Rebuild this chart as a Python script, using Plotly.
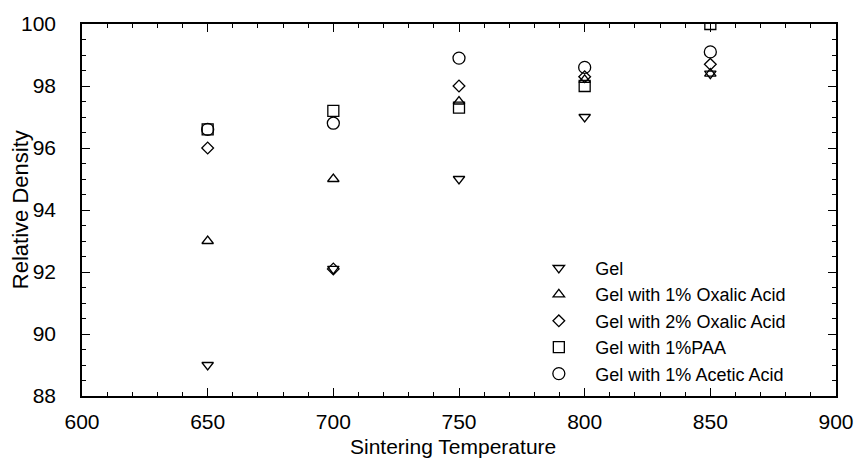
import plotly.graph_objects as go

temps = [650, 700, 750, 800, 850]
gel = [89.0, 92.1, 95.0, 97.0, 98.4]
oxalic1 = [93.0, 95.0, 97.5, 98.2, 98.4]
oxalic2 = [96.0, 92.1, 98.0, 98.3, 98.7]
paa = [96.6, 97.2, 97.3, 98.0, 100.0]
acetic = [96.6, 96.8, 98.9, 98.6, 99.1]

series = [
    ("Gel", gel, "triangle-down-open", 10),
    ("Gel with 1% Oxalic Acid", oxalic1, "triangle-up-open", 10),
    ("Gel with 2% Oxalic Acid", oxalic2, "diamond-open", 9),
    ("Gel with 1%PAA", paa, "square-open", 11),
    ("Gel with 1% Acetic Acid", acetic, "circle-open", 12),
]

fig = go.Figure()
for i, (name, vals, sym, sz) in enumerate(series):
    fig.add_trace(go.Scatter(
        x=temps, y=vals, mode="markers", name=name, legendgroup=str(i),
        marker=dict(symbol=sym, size=sz, color="black", line=dict(width=1.3, color="black")),
    ))

font = "Liberation Sans, Arial, sans-serif"
axis_common = dict(
    showgrid=False, zeroline=False, showline=True, linecolor="black", linewidth=1.5,
    mirror="ticks", ticks="inside", tickcolor="black", tickwidth=1.3, ticklen=8,
    tickfont=dict(family=font, size=21, color="black"),
)
fig.update_xaxes(range=[600, 900], dtick=50, tick0=600, ticklabelstandoff=6,
                 minor=dict(dtick=10, ticks="inside", ticklen=4, tickcolor="black"),
                 **axis_common)
fig.update_yaxes(range=[88, 100], dtick=2, tick0=88, ticklabelstandoff=20,
                 minor=dict(dtick=0.5, ticks="inside", ticklen=4, tickcolor="black"),
                 **axis_common)

fig.add_annotation(text="Sintering Temperature", xref="paper", yref="paper",
                   x=0.492, y=-0.137, xanchor="center", yanchor="middle", showarrow=False,
                   font=dict(family=font, size=21, color="black"))
fig.add_annotation(text="Relative Density", xref="paper", yref="paper",
                   x=-0.082, y=0.5, xanchor="center", yanchor="middle", textangle=-90,
                   showarrow=False, font=dict(family=font, size=22, color="black"))

fig.update_layout(
    width=866, height=459,
    margin=dict(l=82, r=24, t=20, b=63),
    paper_bgcolor="white", plot_bgcolor="white",
    showlegend=True,
    legend=dict(x=0.584, y=0.393, xanchor="left", yanchor="top",
                bgcolor="rgba(0,0,0,0)", font=dict(family=font, size=18, color="black"),
                itemwidth=63, tracegroupgap=0, itemsizing="trace"),
)

fig.write_html("out.html")
